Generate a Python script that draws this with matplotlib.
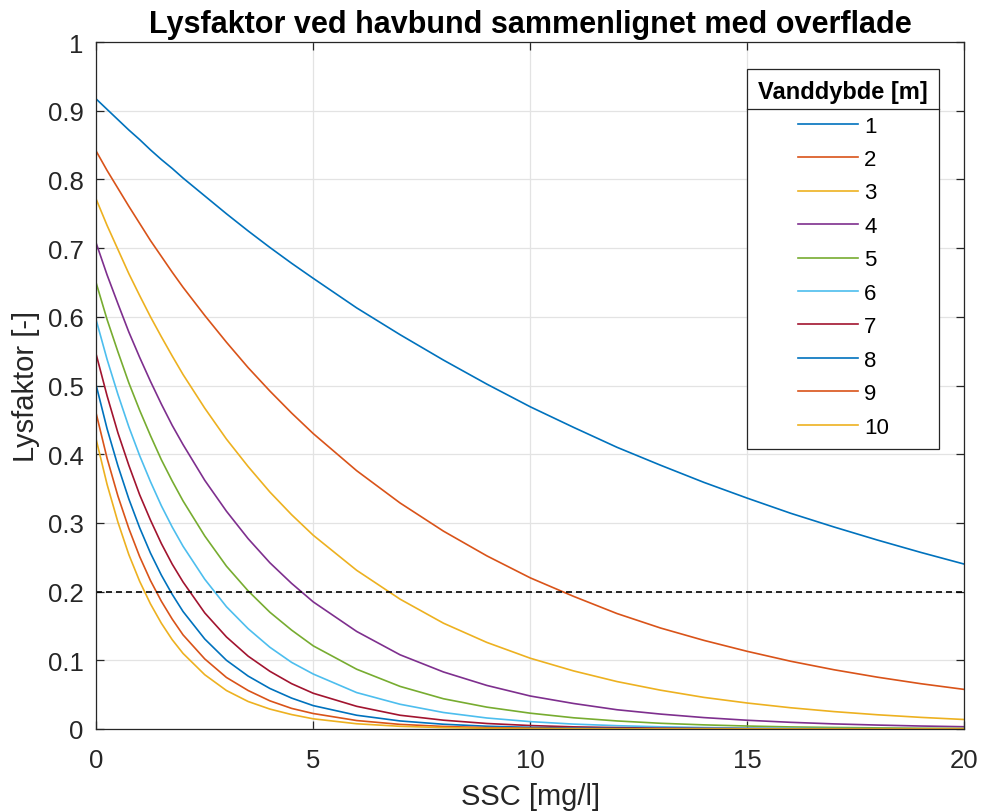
import matplotlib
matplotlib.use("Agg")
import matplotlib.pyplot as plt
from matplotlib.lines import Line2D

plt.rcParams['font.family'] = ['Liberation Sans', 'DejaVu Sans']

# SSC [mg/l]
ssc = [0, 0.25, 0.5, 0.75, 1, 1.25, 1.5, 1.75, 2, 2.5, 3, 3.5, 4, 4.5, 5,
       6, 7, 8, 9, 10, 11, 12, 13, 14, 15, 16, 17, 18, 19, 20]

# Lysfaktor, one list per water depth
d1 = [0.917, 0.902, 0.887, 0.872, 0.858, 0.843, 0.829, 0.816, 0.802, 0.776, 0.750, 0.725, 0.701, 0.678, 0.656,
      0.613, 0.574, 0.537, 0.502, 0.469, 0.439, 0.410, 0.384, 0.359, 0.336, 0.314, 0.294, 0.275, 0.257, 0.240]
d2 = [0.841, 0.813, 0.787, 0.761, 0.736, 0.711, 0.688, 0.665, 0.643, 0.602, 0.563, 0.526, 0.492, 0.460, 0.430,
      0.376, 0.329, 0.288, 0.252, 0.220, 0.193, 0.168, 0.147, 0.129, 0.113, 0.0986, 0.0862, 0.0754, 0.0659, 0.0576]
d3 = [0.771, 0.733, 0.698, 0.663, 0.631, 0.600, 0.571, 0.543, 0.516, 0.467, 0.422, 0.382, 0.345, 0.312, 0.282,
      0.231, 0.189, 0.154, 0.126, 0.103, 0.0845, 0.069, 0.0565, 0.046, 0.0378, 0.0309, 0.0253, 0.0207, 0.0169, 0.0138]
d4 = [0.707, 0.661, 0.619, 0.578, 0.541, 0.506, 0.473, 0.442, 0.414, 0.362, 0.317, 0.277, 0.242, 0.212, 0.185,
      0.142, 0.108, 0.083, 0.0634, 0.048, 0.0371, 0.028, 0.0217, 0.0166, 0.0127, 0.0097, 0.0074, 0.0057, 0.0043, 0.0033]
d5 = [0.649, 0.596, 0.549, 0.504, 0.464, 0.427, 0.392, 0.361, 0.332, 0.281, 0.237, 0.201, 0.170, 0.144, 0.121,
      0.087, 0.062, 0.044, 0.0318, 0.023, 0.0163, 0.0117, 0.0083, 0.0060, 0.0043, 0.0030, 0.0022, 0.0016, 0.0011, 0.0008]
d6 = [0.595, 0.538, 0.487, 0.440, 0.398, 0.360, 0.325, 0.294, 0.266, 0.218, 0.178, 0.146, 0.119, 0.097, 0.080,
      0.053, 0.036, 0.024, 0.016, 0.0107, 0.0071, 0.0048, 0.0032, 0.0021, 0.0014, 0.0010, 0.0006, 0.0004, 0.0003, 0.0002]
d7 = [0.545, 0.485, 0.431, 0.384, 0.341, 0.304, 0.270, 0.240, 0.214, 0.169, 0.134, 0.106, 0.084, 0.066, 0.052,
      0.033, 0.020, 0.0128, 0.0080, 0.0050, 0.0031, 0.0020, 0.0012, 0.0008, 0.0005, 0.0003, 0.0002, 0.0001, 0.0001, 0.00005]
d8 = [0.500, 0.437, 0.383, 0.335, 0.293, 0.256, 0.224, 0.196, 0.171, 0.131, 0.100, 0.077, 0.059, 0.045, 0.034,
      0.020, 0.0117, 0.0069, 0.0040, 0.0024, 0.0014, 0.0008, 0.0005, 0.0003, 0.0002, 0.0001, 0.0001, 0.00003, 0.00002, 0.00001]
d9 = [0.459, 0.394, 0.339, 0.292, 0.251, 0.216, 0.186, 0.160, 0.137, 0.102, 0.075, 0.056, 0.041, 0.030, 0.0225,
      0.0123, 0.0067, 0.0037, 0.0020, 0.0011, 0.0006, 0.0003, 0.0002, 0.0001, 0.0001, 0.00003, 0.00002, 0.00001, 0.0, 0.0]
d10 = [0.421, 0.356, 0.301, 0.254, 0.215, 0.182, 0.154, 0.130, 0.110, 0.079, 0.056, 0.040, 0.029, 0.021, 0.0148,
       0.0076, 0.0039, 0.0020, 0.0010, 0.0005, 0.0003, 0.0001, 0.0001, 0.00004, 0.00002, 0.00001, 0.0, 0.0, 0.0, 0.0]

depths = ['1', '2', '3', '4', '5', '6', '7', '8', '9', '10']
series = [d1, d2, d3, d4, d5, d6, d7, d8, d9, d10]
threshold = 0.2

colors = ['#0072BD', '#D95319', '#EDB120', '#7E2F8E', '#77AC30',
          '#4DBEEE', '#A2142F', '#0072BD', '#D95319', '#EDB120']
axcol = '#262626'

fig = plt.figure(figsize=(9.82, 8.12), dpi=100)
ax = fig.add_axes([0.098, 0.101, 0.884, 0.846])

for lab, vals, c in zip(depths, series, colors):
    ax.plot(ssc, vals, color=c, lw=1.2, label=lab)

ax.axhline(threshold, color='black', lw=1.2, ls=(0, (3.6, 2.4)))

ax.set_xlim(0, 20)
ax.set_ylim(0, 1)
ax.set_xticks([0, 5, 10, 15, 20])
ax.set_yticks([i / 10 for i in range(11)])
ax.set_yticklabels(['0', '0.1', '0.2', '0.3', '0.4', '0.5', '0.6', '0.7', '0.8', '0.9', '1'])
ax.grid(True, color='#e3e3e3', lw=0.9)
ax.set_axisbelow(True)
ax.tick_params(direction='in', top=True, right=True, length=6, width=0.9,
               colors=axcol, labelsize=18.5)
ax.tick_params(axis='x', pad=14)
ax.tick_params(axis='y', pad=9)
for s in ax.spines.values():
    s.set_color(axcol)
    s.set_linewidth(0.9)

ax.set_title('Lysfaktor ved havbund sammenlignet med overflade',
             fontsize=22, fontweight='bold', pad=7)
ax.set_xlabel('SSC [mg/l]', fontsize=21, color=axcol, labelpad=7)
ax.set_ylabel('Lysfaktor [-]', fontsize=21, color=axcol, labelpad=6)

leg = ax.legend(title='Vanddybde [m]', loc='upper right',
                bbox_to_anchor=(0.9712, 0.9607), fontsize=16,
                title_fontproperties={'weight': 'bold', 'size': 17},
                fancybox=False, edgecolor=axcol, framealpha=1,
                borderpad=0.5, labelspacing=0.56, handlelength=2.7,
                handletextpad=0.3, borderaxespad=0)
leg.get_frame().set_linewidth(0.9)

# separator line under the legend title
fig.canvas.draw()
r = fig.canvas.get_renderer()
fb = leg.get_frame().get_window_extent(r)
tb = leg.get_title().get_window_extent(r)
inv = fig.transFigure.inverted()
x0, y0 = inv.transform((fb.x0, tb.y0 - 6))
x1, _ = inv.transform((fb.x1, tb.y0 - 6))
fig.add_artist(Line2D([x0, x1], [y0, y0], color=axcol, lw=0.9,
                      transform=fig.transFigure))

fig.savefig('out.png', dpi=100)
